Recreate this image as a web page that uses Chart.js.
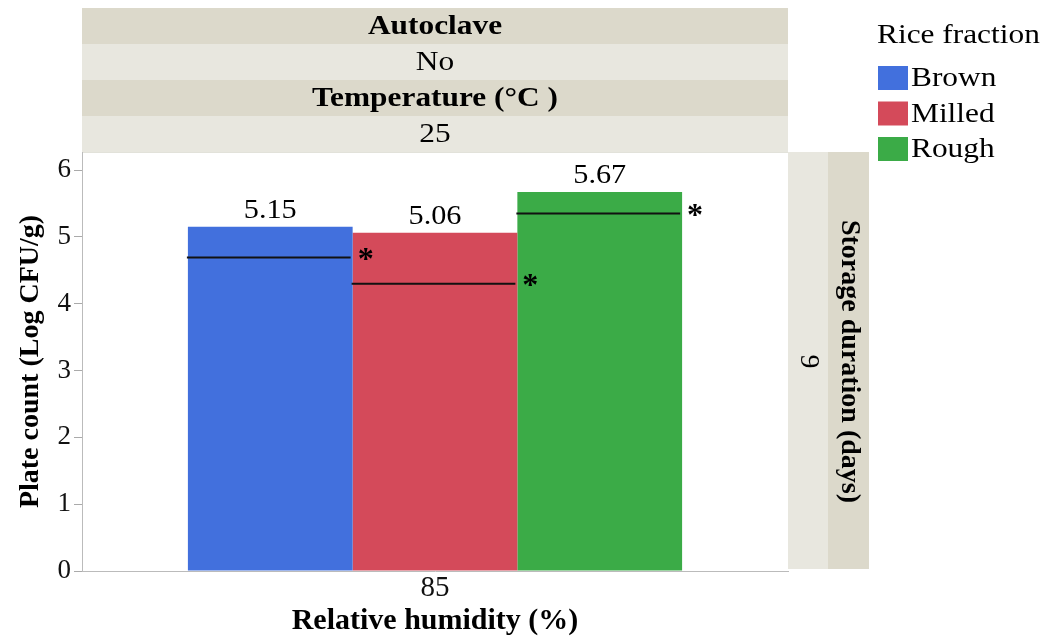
<!DOCTYPE html>
<html>
<head>
<meta charset="utf-8">
<script src="https://cdn.jsdelivr.net/npm/chart.js@4"></script>
<style>
html,body{margin:0;padding:0;background:#fff;}
canvas{display:block;}
</style>
</head>
<body>
<canvas id="c" width="1047" height="639"></canvas>
<script>
const categories = ["85"];
const seriesNames = ["Brown", "Milled", "Rough"];
const seriesColors = ["#4270dd", "#d44a5a", "#3bab47"];
const brownValues = [5.15];
const milledValues = [5.06];
const roughValues = [5.67];
const refValues = [4.69, 4.30, 5.35];
const yTicks = [0, 1, 2, 3, 4, 5, 6];
const headerRows = [
  {text: "Autoclave", bold: true},
  {text: "No", bold: false},
  {text: "Temperature (°C )", bold: true},
  {text: "25", bold: false}
];
const stripValue = "9";
const stripTitle = "Storage duration (days)";
const legendTitle = "Rice fraction";
const yTitle = "Plate count (Log CFU/g)";
const xTitle = "Relative humidity (%)";

const DARK = "#dcd9cb", LIGHT = "#e8e7df";
const FONT = "'Liberation Serif', 'Times New Roman', serif";
const SX = 1.12;

function wideText(ctx, text, x, y, font, align) {
  ctx.save();
  ctx.font = font;
  ctx.textAlign = align;
  ctx.textBaseline = "middle";
  ctx.translate(x, y);
  ctx.scale(SX, 1);
  ctx.fillText(text, 0, 0);
  ctx.restore();
}

const facetPlugin = {
  id: "facets",
  beforeDraw(chart) {
    const ctx = chart.ctx, a = chart.chartArea;
    ctx.save();
    ctx.fillStyle = "#fff";
    ctx.fillRect(0, 0, chart.width, chart.height);
    const top = 8, rowH = (a.top - top) / headerRows.length;
    headerRows.forEach((r, i) => {
      ctx.fillStyle = i % 2 === 0 ? DARK : LIGHT;
      ctx.fillRect(a.left, top + i * rowH, a.right - a.left, rowH);
      ctx.fillStyle = "#000";
      wideText(ctx, r.text, (a.left + a.right) / 2, top + i * rowH + rowH / 2 + 1,
        (r.bold ? "bold " : "") + "28px " + FONT, "center");
    });
    const sw1 = 40, sw2 = 41;
    ctx.fillStyle = LIGHT;
    ctx.fillRect(a.right, a.top, sw1, a.bottom - a.top - 2);
    ctx.fillStyle = DARK;
    ctx.fillRect(a.right + sw1, a.top, sw2, a.bottom - a.top - 2);
    const cy = (a.top + a.bottom) / 2;
    ctx.fillStyle = "#000";
    ctx.save();
    ctx.translate(a.right + sw1 / 2, cy);
    ctx.rotate(Math.PI / 2);
    ctx.font = "28px " + FONT;
    ctx.textAlign = "center"; ctx.textBaseline = "middle";
    ctx.fillText(stripValue, 0, 0);
    ctx.restore();
    ctx.save();
    ctx.translate(a.right + sw1 + sw2 / 2 + 1, cy);
    ctx.rotate(Math.PI / 2);
    ctx.font = "bold 28px " + FONT;
    ctx.textAlign = "center"; ctx.textBaseline = "middle";
    ctx.fillText(stripTitle, 0, 0);
    ctx.restore();
    ctx.strokeStyle = "#e2e2da";
    ctx.lineWidth = 1;
    ctx.beginPath();
    ctx.moveTo(a.left, a.top + 0.5); ctx.lineTo(a.right, a.top + 0.5);
    ctx.stroke();
    ctx.restore();
  },
  afterDatasetsDraw(chart) {
    const ctx = chart.ctx, y = chart.scales.y;
    ctx.save();
    chart.data.datasets.forEach((ds, i) => {
      const meta = chart.getDatasetMeta(i);
      meta.data.forEach((bar, j) => {
        const left = bar.x - bar.width / 2, right = bar.x + bar.width / 2;
        ctx.fillStyle = "#000";
        wideText(ctx, ds.data[j].toFixed(2), bar.x, bar.y - 16, "27px " + FONT, "center");
        const ry = y.getPixelForValue(refValues[i]);
        ctx.strokeStyle = "#111";
        ctx.lineWidth = 2;
        ctx.beginPath();
        ctx.moveTo(left - 1, ry); ctx.lineTo(right - 2, ry);
        ctx.stroke();
        ctx.font = "bold 32px " + FONT;
        ctx.textAlign = "left"; ctx.textBaseline = "middle";
        ctx.fillText("*", right + 5, ry + 3);
      });
    });
    ctx.restore();
  },
  afterDraw(chart) {
    const ctx = chart.ctx;
    ctx.save();
    ctx.fillStyle = "#000";
    wideText(ctx, legendTitle, 877, 36, "28px " + FONT, "left");
    chart.data.datasets.forEach((ds, i) => {
      const yy = 66 + i * 35.5;
      ctx.fillStyle = ds.backgroundColor;
      ctx.fillRect(878, yy, 30, 24);
      ctx.fillStyle = "#000";
      wideText(ctx, ds.label, 911, yy + 13, "28px " + FONT, "left");
    });
    ctx.restore();
  }
};

const datasets = [brownValues, milledValues, roughValues].map((vals, i) => ({
  label: seriesNames[i],
  data: vals,
  backgroundColor: seriesColors[i],
  borderWidth: 0,
  categoryPercentage: 0.7,
  barPercentage: 1.0
}));

new Chart(document.getElementById("c"), {
  type: "bar",
  data: {labels: categories, datasets},
  plugins: [facetPlugin],
  options: {
    responsive: false,
    animation: false,
    layout: {padding: {top: 152, right: 259, left: 0, bottom: 0}},
    plugins: {legend: {display: false}, tooltip: {enabled: false}},
    scales: {
      x: {
        grid: {display: false, drawTicks: false},
        border: {display: true, color: "#bbb", width: 1},
        ticks: {color: "#111", font: {family: FONT, size: 29}, padding: 0},
        title: {display: true, text: xTitle, color: "#000", font: {family: FONT, size: 30, weight: "bold"}, padding: {top: 0, bottom: 0}},
        afterFit(s) { s.height = 68; }
      },
      y: {
        min: 0, max: 6.27,
        afterBuildTicks(s) { s.ticks = yTicks.map(v => ({value: v})); },
        grid: {display: true, drawOnChartArea: false, drawTicks: true, tickLength: 8, color: "#aaa"},
        border: {display: true, color: "#bbb", width: 1},
        ticks: {color: "#111", font: {family: FONT, size: 27}, padding: 3},
        title: {display: true, text: yTitle, color: "#000", font: {family: FONT, size: 28, weight: "bold"}, padding: {top: 14, bottom: 0}},
        afterFit(s) { s.width = 82; }
      }
    }
  }
});
</script>
</body>
</html>
